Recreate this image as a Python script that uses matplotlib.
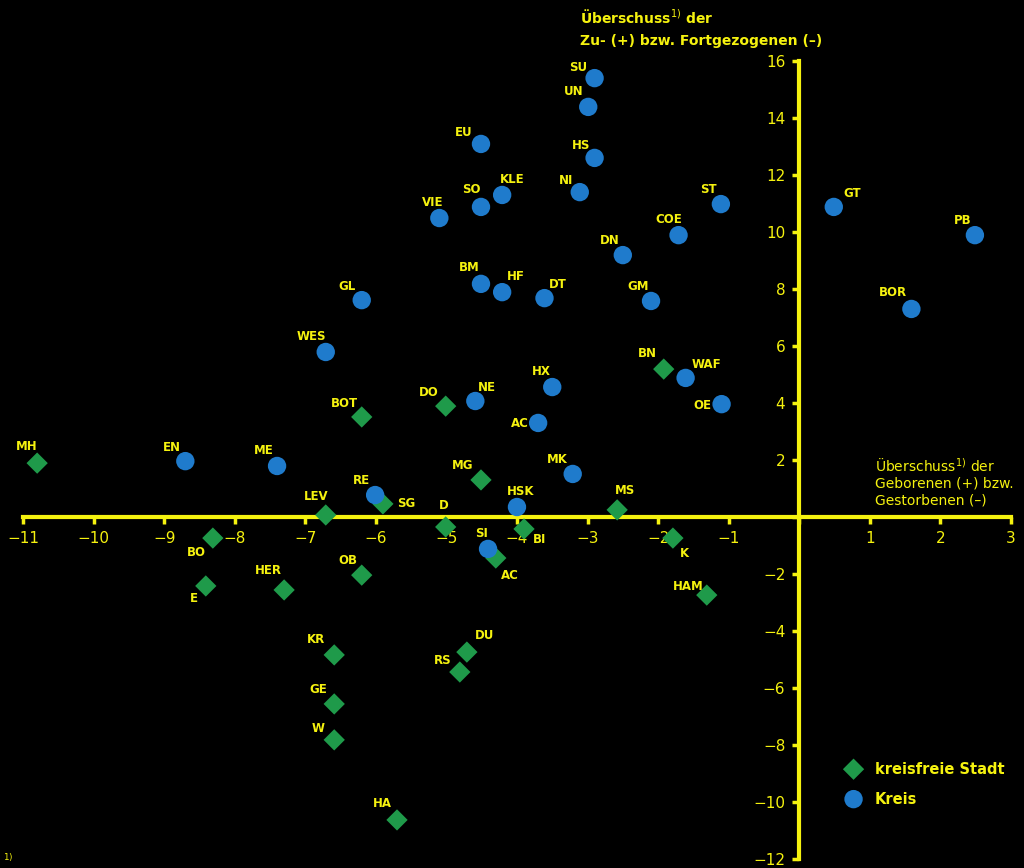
# -*- coding: utf-8 -*-
"""Wanderungs- vs. natürlicher Saldo je Kreis/kreisfreie Stadt (NRW)."""
import numpy as np
import matplotlib; matplotlib.use("Agg")
import matplotlib.pyplot as plt

# kreisfreie Städte: (Kürzel, natürlicher Saldo, Wanderungssaldo)
stadt_lbl = ["MH","BN","BOT","DO","MG","SG","LEV","D","BI","MS","BO","K","AC",
             "E","HER","OB","HAM","KR","DU","RS","GE","W","HA"]
stadt_x = [-10.8,-1.92,-6.2,-5.01,-4.51,-5.9,-6.71,-5.01,-3.9,-2.58,-8.31,-1.79,-4.3,
           -8.41,-7.3,-6.2,-1.31,-6.59,-4.71,-4.81,-6.59,-6.59,-5.7]
stadt_y = [1.89,5.19,3.51,3.89,1.3,0.46,0.07,-0.35,-0.42,0.25,-0.74,-0.74,-1.44,
           -2.42,-2.56,-2.04,-2.74,-4.84,-4.74,-5.44,-6.56,-7.82,-10.63]
# Kreise
kreis_lbl = ["SU","UN","EU","HS","KLE","SO","NI","VIE","ST","GT","PB","COE","DN",
             "BM","HF","DT","GM","GL","BOR","WES","WAF","OE","HX","NE","AC","EN",
             "ME","MK","RE","HSK","SI"]
kreis_x = [-2.9,-2.99,-4.51,-2.9,-4.21,-4.51,-3.11,-5.1,-1.11,0.49,2.49,-1.71,-2.5,
           -4.51,-4.21,-3.61,-2.1,-6.2,1.59,-6.71,-1.61,-1.1,-3.5,-4.59,-3.7,-8.7,
           -7.4,-3.21,-6.01,-4.0,-4.41]
kreis_y = [15.4,14.39,13.09,12.6,11.3,10.88,11.4,10.49,10.98,10.88,9.89,9.89,9.19,
           8.18,7.89,7.68,7.58,7.61,7.3,5.79,4.88,3.96,4.56,4.07,3.3,1.96,
           1.79,1.51,0.77,0.35,-1.12]

# Beschriftungsversatz in Pixeln (dx, dy nach unten positiv)
stadt_off = [(-10,-17),(-16,-16),(-17,-13),(-17,-14),(-18,-14),(23,0),(-10,-18),(-2,-21),
             (16,11),(8,-19),(-16,14),(12,15),(14,17),(-12,13),(-16,-19),(-14,-15),
             (-19,-9),(-18,-15),(18,-17),(-17,-12),(-16,-14),(-16,-11),(-15,-16)]
kreis_off = [(-16,-11),(-15,-15),(-17,-11),(-14,-12),(10,-15),(-10,-17),(-14,-12),(-7,-16),
             (-12,-15),(18,-13),(-12,-15),(-10,-16),(-13,-15),(-12,-16),(14,-16),(13,-14),
             (-13,-14),(-15,-14),(-18,-16),(-14,-15),(21,-13),(-19,1),(-11,-16),(12,-14),
             (-18,1),(-13,-14),(-13,-15),(-15,-14),(-14,-15),(4,-16),(-6,-15)]

BG = "#000000"; YEL = "#f5f20f"; GRN = "#1f9a4a"; BLU = "#1f7bcc"
plt.rcParams["font.family"] = ["DejaVu Sans"]
DIAM = [(0, 1), (1, 0), (0, -1), (-1, 0), (0, 1)]

fig = plt.figure(figsize=(10.24, 8.68), dpi=100)
fig.patch.set_facecolor(BG)
ax = fig.add_axes([0.0225, 0.0104, 0.9647, 0.9193])
ax.set_facecolor(BG)
ax.set_xlim(-11, 3); ax.set_ylim(-12, 16)

ax.scatter(stadt_x, stadt_y, marker=DIAM, s=235, color=GRN, edgecolor="none", zorder=3)
ax.scatter(kreis_x, kreis_y, marker="o", s=175, color=BLU, edgecolor="none", zorder=3)

def labels(lbl, xs, ys, offs):
    for t, x, y, (dx, dy) in zip(lbl, xs, ys, offs):
        ax.annotate(t, (x, y), xytext=(dx, -dy), textcoords="offset pixels",
                    ha="center", va="center", color=YEL, fontsize=8.5,
                    fontweight="bold", zorder=4)
labels(stadt_lbl, stadt_x, stadt_y, stadt_off)
labels(kreis_lbl, kreis_x, kreis_y, kreis_off)

# Achsen durch den Nullpunkt
for s in ["top", "right"]: ax.spines[s].set_visible(False)
ax.spines["left"].set_position(("data", 0))
ax.spines["bottom"].set_position(("data", 0))
for s in ["left", "bottom"]:
    ax.spines[s].set_color(YEL); ax.spines[s].set_linewidth(3)
ax.set_xticks(range(-11, 4)); ax.set_yticks(range(-12, 17, 2))
ax.xaxis.set_major_formatter(lambda v, p: "" if v == 0 else f"{int(v)}".replace("-", "\u2212"))
ax.yaxis.set_major_formatter(lambda v, p: "" if v == 0 else f"{int(v)}".replace("-", "\u2212"))
ax.tick_params(axis="x", direction="out", length=5, width=2.5, colors=YEL,
               labelsize=11, pad=5)
ax.tick_params(axis="y", direction="out", length=5, width=2.5, colors=YEL,
               labelsize=11, pad=5)

ax.text(-3.1, 17.15, "Überschuss$^{1)}$ der\nZu- (+) bzw. Fortgezogenen (–)",
        color=YEL, fontsize=10, fontweight="bold", ha="left", va="center",
        linespacing=1.75, clip_on=False)
ax.text(1.07, 1.23, "Überschuss$^{1)}$ der\nGeborenen (+) bzw.\nGestorbenen (–)",
        color=YEL, fontsize=10, ha="left", va="center", linespacing=1.2)

# Legende
ax.scatter([0.77], [-8.85], marker=DIAM, s=235, color=GRN, edgecolor="none")
ax.scatter([0.77], [-9.9], marker="o", s=175, color=BLU, edgecolor="none")
ax.text(1.07, -8.85, "kreisfreie Stadt", color=YEL, fontsize=10.5, fontweight="bold", va="center")
ax.text(1.07, -9.9, "Kreis", color=YEL, fontsize=10.5, fontweight="bold", va="center")

fig.text(0.003, 0.001, "$^{1)}$", color=YEL, fontsize=9, va="bottom")
fig.savefig("out.png", dpi=100, facecolor=BG)
